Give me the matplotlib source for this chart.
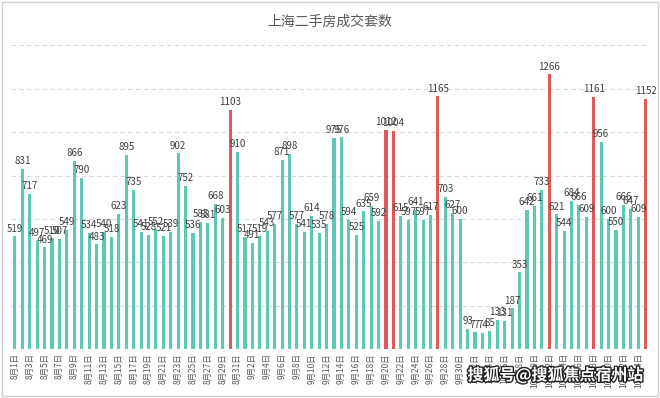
import matplotlib.pyplot as plt
import matplotlib.patheffects as pe
from matplotlib.patches import Rectangle
import datetime as dt

plt.rcParams['font.family'] = ['Noto Sans CJK SC', 'DejaVu Sans']

# daily deals, 8/1 .. 10/25
values = [519, 831, 717, 497, 469, 510, 507, 549, 866, 790,
          534, 483, 540, 518, 623, 895, 735, 541, 528, 552,
          521, 539, 902, 752, 536, 585, 581, 668, 603, 1103,
          910, 517, 491, 519, 543, 577, 871, 898, 577, 541,
          614, 535, 578, 975, 976, 594, 525, 635, 659, 592,
          1012, 1004, 615, 597, 641, 597, 617, 1165, 703, 627,
          600, 93, 77, 74, 85, 133, 131, 187, 353, 642,
          661, 733, 1266, 621, 544, 684, 666, 609, 1161, 956,
          600, 550, 666, 647, 609, 1152]
red_days = [29, 50, 51, 57, 72, 78, 85]

start = dt.date(2022, 8, 1)
dates = [start + dt.timedelta(days=i) for i in range(len(values))]
labels = [f"{d.month}月{d.day}日" for d in dates]

teal = '#5ec7b6'
red = '#e0585a'
colors = [red if i in red_days else teal for i in range(len(values))]

fig = plt.figure(figsize=(6.6, 3.98), dpi=100)
ax = fig.add_axes([0.017, 0.123, 0.967, 0.763])

x = list(range(len(values)))
ax.bar(x, values, width=0.42, color=colors, zorder=2)

for xi, v in zip(x, values):
    ax.annotate(str(v), (xi, v), xytext=(0, 2), textcoords='offset points',
                ha='center', va='bottom', fontsize=7, color='#404040', zorder=3)

ax.set_xlim(-0.5, len(values) - 0.5)
ax.set_ylim(0, 1400)
ax.set_yticks(range(0, 1401, 200))
ax.yaxis.grid(True, linestyle=(0, (4, 3)), color='#d9d9d9', linewidth=0.8, zorder=0)
ax.tick_params(axis='y', left=False, labelleft=False)
ax.set_xticks(x[::2])
ax.set_xticklabels(labels[::2], rotation=90, fontsize=6, color='#595959')
ax.tick_params(axis='x', length=0, pad=3)
for s in ax.spines.values():
    s.set_visible(False)

fig.text(0.5, 0.945, '上海二手房成交套数', ha='center', va='center',
         fontsize=10, color='#595959')

fig.text(0.975, 0.035, '搜狐号@搜狐焦点宿州站', ha='right', va='bottom',
         fontsize=11.5, fontweight='bold', color='white',
         path_effects=[pe.withStroke(linewidth=2, foreground='#222222')])

fig.patches.append(Rectangle((0.003, 0.005), 0.994, 0.99, transform=fig.transFigure,
                             fill=False, edgecolor='#d0d0d0', linewidth=1))

fig.savefig('out.png', dpi=100)
